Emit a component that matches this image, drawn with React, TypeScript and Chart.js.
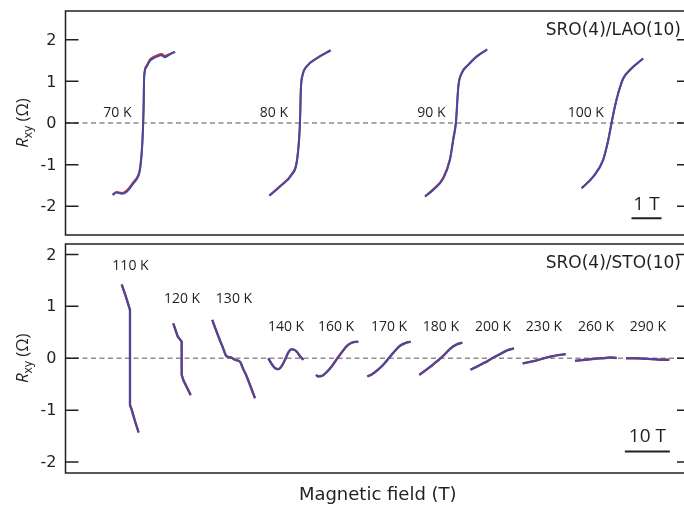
import React, { useEffect, useRef } from "react";
import { Chart, registerables } from "chart.js";

Chart.register(...registerables);

const INK = "#231f20";
const RED = "#e3262d";
const BLUE = "#3b4ea6";
const GRAY = "#8c8c8c";

const yTicks = [-2, -1, 0, 1, 2];
const yTickLabels = ["-2", "-1", "0", "1", "2"];

// ---------- Top panel: SRO(4)/LAO(10) (field in T, Rxy in Ohm) ----------
const topTitle = "SRO(4)/LAO(10)";
const topTemps = ["70 K", "80 K", "90 K", "100 K"];
const topOffsets = [2.593, 7.817, 13.017, 18.207];
const topLabelX = [2.2, 7.42, 12.67, 17.95];
const topLabelY = [0.24, 0.24, 0.24, 0.24];
const topXRange = [0, 20.82];
const topYRange = [-2.69, 2.69];
const topBar = { start: 18.87, length: 1, y: -2.285, text: "1 T", textY: -1.97 };

const h70 = [-1.02, -0.89, -0.72, -0.55, -0.33, -0.18, -0.11, -0.05, -0.01, 0.01, 0.03, 0.11, 0.22, 0.33, 0.44, 0.61, 0.72, 0.89, 1.06];
const r70Blue = [-1.73, -1.67, -1.7, -1.65, -1.45, -1.3, -1.13, -0.72, -0.17, 0.31, 1.11, 1.35, 1.49, 1.55, 1.59, 1.63, 1.58, 1.65, 1.71];
const r70Red = [-1.72, -1.66, -1.68, -1.62, -1.42, -1.27, -1.09, -0.66, -0.1, 0.38, 1.14, 1.38, 1.52, 1.58, 1.62, 1.66, 1.61, 1.66, 1.71];

const h80 = [-1.02, -0.67, -0.28, -0.11, -0.03, 0, 0.03, 0.09, 0.22, 0.56, 1.02];
const r80Blue = [-1.75, -1.53, -1.25, -0.96, -0.41, 0, 0.79, 1.15, 1.35, 1.55, 1.75];
const r80Red = [-1.74, -1.52, -1.23, -0.93, -0.37, 0.05, 0.83, 1.17, 1.36, 1.56, 1.74];

const h90 = [-1.03, -0.76, -0.42, -0.2, -0.09, 0, 0.08, 0.19, 0.41, 0.69, 1.04];
const r90Blue = [-1.77, -1.61, -1.33, -0.89, -0.41, 0, 0.87, 1.19, 1.39, 1.59, 1.77];
const r90Red = [-1.76, -1.59, -1.31, -0.86, -0.37, 0.04, 0.89, 1.2, 1.4, 1.6, 1.76];

const h100 = [-1.0, -0.61, -0.28, -0.11, 0, 0.11, 0.22, 0.39, 0.61, 1.05];
const r100Blue = [-1.57, -1.29, -0.89, -0.41, 0, 0.39, 0.71, 1.07, 1.27, 1.55];
const r100Red = [-1.56, -1.28, -0.87, -0.39, 0.02, 0.41, 0.72, 1.08, 1.28, 1.55];

// ---------- Bottom panel: SRO(4)/STO(10) ----------
const botTitle = "SRO(4)/STO(10)";
const botTemps = ["110 K", "120 K", "130 K", "140 K", "160 K", "170 K", "180 K", "200 K", "230 K", "260 K", "290 K"];
const botOffsets = [14.33, 25.82, 37.38, 48.96, 60.38, 71.89, 83.4, 94.84, 106.38, 117.84, 129.38];
const botLabelX = [14.44, 25.89, 37.44, 49.0, 60.11, 71.89, 83.44, 95.0, 106.33, 117.89, 129.44];
const botLabelY = [1.78, 1.14, 1.14, 0.6, 0.6, 0.6, 0.6, 0.6, 0.6, 0.6, 0.6];
const botXRange = [0, 138.78];
const botYRange = [-2.21, 2.2];
const botBar = { start: 124.3, length: 10, y: -1.796, text: "10 T", textY: -1.51 };

const h110 = [-1.84, -0.89, 0, 0, 0.38, 1.11, 1.92];
const r110 = [1.42, 1.18, 0.93, -0.9, -0.99, -1.21, -1.43];

const h120 = [-1.87, -0.89, 0, 0, 0.36, 2.0];
const r120 = [0.67, 0.42, 0.32, -0.32, -0.42, -0.71];

const h130 = [-4.76, -3.93, -3.04, -2.38, -1.78, -1.27, -0.82, -0.38, 0.07, 0.62, 1.02, 1.51, 2.07, 2.89, 3.73, 4.73];
const r130 = [0.74, 0.54, 0.34, 0.2, 0.06, 0.025, 0.02, 0.005, -0.02, -0.04, -0.045, -0.08, -0.2, -0.35, -0.54, -0.77];

const h140 = [-3.89, -3.29, -2.4, -1.67, -1.07, -0.18, 0.49, 1.16, 1.67, 2.49, 3.16, 3.89];
const r140 = [0, -0.09, -0.19, -0.21, -0.17, -0.03, 0.1, 0.17, 0.17, 0.12, 0.04, -0.03];

const h160 = [-4.71, -4.27, -3.38, -2.27, -1.16, -0.04, 1.07, 2.18, 3.29, 4.69];
const r160 = [-0.32, -0.35, -0.34, -0.26, -0.15, -0.01, 0.12, 0.24, 0.3, 0.32];

const h170 = [-4.82, -3.78, -2.44, -1.33, -0.16, 1.11, 2.44, 3.56, 4.82];
const r170 = [-0.35, -0.31, -0.22, -0.13, -0.01, 0.12, 0.24, 0.29, 0.32];

const h180 = [-4.78, -3.51, -2.4, -1.29, -0.18, 0.93, 2.04, 3.38, 4.78];
const r180 = [-0.32, -0.24, -0.17, -0.09, -0.01, 0.08, 0.18, 0.26, 0.3];

const h200 = [-4.84, -3.62, -2.29, -0.96, 0.38, 1.71, 3.27, 4.82];
const r200 = [-0.22, -0.17, -0.11, -0.05, 0.02, 0.08, 0.15, 0.19];

const h230 = [-4.78, -3.16, -1.6, -0.04, 1.51, 3.07, 4.78];
const r230 = [-0.1, -0.07, -0.04, 0, 0.035, 0.06, 0.08];

const h260 = [-4.62, -2.4, -0.18, 2.04, 3.38, 4.64];
const r260 = [-0.05, -0.03, -0.01, 0.005, 0.015, 0.005];

const h290 = [-4.82, -2.82, -0.6, 1.62, 3.18, 4.8];
const r290 = [0, 0, -0.01, -0.02, -0.03, -0.03];

const topCurves = [
  { h: h70, blue: r70Blue, red: r70Red },
  { h: h80, blue: r80Blue, red: r80Red },
  { h: h90, blue: r90Blue, red: r90Red },
  { h: h100, blue: r100Blue, red: r100Red },
];
const botCurves = [
  { h: h110, blue: r110, red: r110, straight: true },
  { h: h120, blue: r120, red: r120, straight: true },
  { h: h130, blue: r130, red: r130 },
  { h: h140, blue: r140, red: r140 },
  { h: h160, blue: r160, red: r160 },
  { h: h170, blue: r170, red: r170 },
  { h: h180, blue: r180, red: r180 },
  { h: h200, blue: r200, red: r200 },
  { h: h230, blue: r230, red: r230 },
  { h: h260, blue: r260, red: r260 },
  { h: h290, blue: r290, red: r290 },
];

type Curve = { h: number[]; blue: number[]; red: number[]; straight?: boolean };
type Panel = {
  title: string;
  temps: string[];
  offsets: number[];
  labelX: number[];
  labelY: number[];
  labelAlign: CanvasTextAlign;
  xRange: number[];
  yRange: number[];
  bar: { start: number; length: number; y: number; text: string; textY: number };
  curves: Curve[];
  padding: { top: number; right: number; bottom: number; left: number };
  redWidth: number;
  xTitle?: string;
};

const topPanel: Panel = {
  title: topTitle,
  temps: topTemps,
  offsets: topOffsets,
  labelX: topLabelX,
  labelY: topLabelY,
  labelAlign: "right",
  xRange: topXRange,
  yRange: topYRange,
  bar: topBar,
  curves: topCurves,
  padding: { top: 11, right: 10, bottom: 5, left: 65.5 },
  redWidth: 2,
};

const botPanel: Panel = {
  title: botTitle,
  temps: botTemps,
  offsets: botOffsets,
  labelX: botLabelX,
  labelY: botLabelY,
  labelAlign: "center",
  xRange: botXRange,
  yRange: botYRange,
  bar: botBar,
  curves: botCurves,
  padding: { top: 4, right: 10, bottom: 33, left: 65.5 },
  redWidth: 2.4,
  xTitle: "Magnetic field (T)",
};

function buildChart(canvas: HTMLCanvasElement, p: Panel) {
  const datasets: any[] = [];
  datasets.push({
    data: [
      { x: p.xRange[0], y: 0 },
      { x: p.xRange[1], y: 0 },
    ],
    showLine: true,
    borderColor: GRAY,
    borderWidth: 1.3,
    borderDash: [5, 3.5],
    pointRadius: 0,
    order: 5,
  });
  p.curves.forEach((c, i) => {
    const off = p.offsets[i];
    const interp = c.straight ? {} : { cubicInterpolationMode: "monotone" };
    datasets.push({
      data: c.h.map((v, k) => ({ x: off + v, y: c.red[k] })),
      showLine: true,
      borderColor: RED,
      borderWidth: p.redWidth,
      pointRadius: 0,
      order: 3,
      ...interp,
    });
    datasets.push({
      data: c.h.map((v, k) => ({ x: off + v, y: c.blue[k] })),
      showLine: true,
      borderColor: BLUE,
      borderWidth: 2,
      pointRadius: 0,
      order: 2,
      ...interp,
    });
  });
  datasets.push({
    data: [
      { x: p.bar.start, y: p.bar.y },
      { x: p.bar.start + p.bar.length, y: p.bar.y },
    ],
    showLine: true,
    borderColor: INK,
    borderWidth: 2,
    pointRadius: 0,
    order: 1,
  });

  const plugin = {
    id: "panelDecor",
    afterDatasetsDraw(chart: any) {
      const { ctx, chartArea: a, scales } = chart;
      const x = scales.x;
      const y = scales.y;
      ctx.save();
      ctx.strokeStyle = INK;
      ctx.lineWidth = 1.5;
      ctx.strokeRect(a.left, a.top, a.right - a.left, a.bottom - a.top);
      ctx.fillStyle = INK;
      ctx.font = '16px "DejaVu Sans"';
      ctx.textAlign = "right";
      ctx.textBaseline = "middle";
      yTicks.forEach((v, i) => {
        const py = y.getPixelForValue(v);
        ctx.beginPath();
        ctx.moveTo(a.left, py);
        ctx.lineTo(a.left + 13, py);
        ctx.moveTo(a.right - 13, py);
        ctx.lineTo(a.right, py);
        ctx.stroke();
        ctx.fillText(yTickLabels[i], a.left - 9, py + 1);
      });
      // temperature labels
      ctx.font = '14px "Open Sans"';
      ctx.textAlign = p.labelAlign;
      p.temps.forEach((t, i) => {
        ctx.fillText(t, x.getPixelForValue(p.labelX[i]), y.getPixelForValue(p.labelY[i]));
      });
      // panel title
      ctx.font = '17px "DejaVu Sans"';
      ctx.textAlign = "right";
      ctx.fillText(p.title, a.right - 9, a.top + 20);
      // scale bar text
      ctx.font = '19px "Open Sans"';
      ctx.textAlign = "center";
      ctx.fillText(
        p.bar.text,
        x.getPixelForValue(p.bar.start + p.bar.length / 2),
        y.getPixelForValue(p.bar.textY)
      );
      // y-axis title R_xy (Ω)
      const cy = y.getPixelForValue(0);
      ctx.translate(22, cy);
      ctx.rotate(-Math.PI / 2);
      ctx.textAlign = "left";
      ctx.textBaseline = "alphabetic";
      const fR = 'italic 17px "Open Sans"';
      const fSub = '12px "Open Sans"';
      const fMain = '17px "Open Sans"';
      ctx.font = fR;
      const wR = ctx.measureText("R").width;
      ctx.font = fSub;
      const wS = ctx.measureText("xy").width;
      ctx.font = fMain;
      const wO = ctx.measureText(" (Ω)").width;
      let sx = -(wR + wS + wO) / 2;
      ctx.font = fR;
      ctx.fillText("R", sx, 6);
      sx += wR;
      ctx.font = fSub;
      ctx.fillText("xy", sx, 10);
      sx += wS;
      ctx.font = fMain;
      ctx.fillText(" (Ω)", sx, 6);
      ctx.restore();
      if (p.xTitle) {
        ctx.save();
        ctx.fillStyle = INK;
        ctx.font = '18px "DejaVu Sans"';
        ctx.textAlign = "center";
        ctx.textBaseline = "middle";
        ctx.fillText(p.xTitle, (a.left + a.right) / 2, a.bottom + 22);
        ctx.restore();
      }
    },
  };

  return new Chart(canvas, {
    type: "scatter",
    data: { datasets },
    options: {
      animation: false,
      responsive: false,
      events: [],
      layout: { padding: p.padding },
      plugins: { legend: { display: false }, tooltip: { enabled: false } },
      scales: {
        x: { type: "linear", min: p.xRange[0], max: p.xRange[1], display: false },
        y: { type: "linear", min: p.yRange[0], max: p.yRange[1], display: false },
      },
    } as any,
    plugins: [plugin],
  });
}

export default function App() {
  const topRef = useRef<HTMLCanvasElement>(null);
  const botRef = useRef<HTMLCanvasElement>(null);
  useEffect(() => {
    const c1 = buildChart(topRef.current!, topPanel);
    const c2 = buildChart(botRef.current!, botPanel);
    return () => {
      c1.destroy();
      c2.destroy();
    };
  }, []);
  return (
    <div
      style={{
        position: "absolute",
        left: 0,
        top: 0,
        width: 684,
        height: 506,
        overflow: "hidden",
        background: "#fff",
      }}
    >
      <canvas
        ref={topRef}
        width={700}
        height={240}
        style={{ position: "absolute", left: 0, top: 0, width: 700, height: 240 }}
      />
      <canvas
        ref={botRef}
        width={700}
        height={266}
        style={{ position: "absolute", left: 0, top: 240, width: 700, height: 266 }}
      />
    </div>
  );
}
